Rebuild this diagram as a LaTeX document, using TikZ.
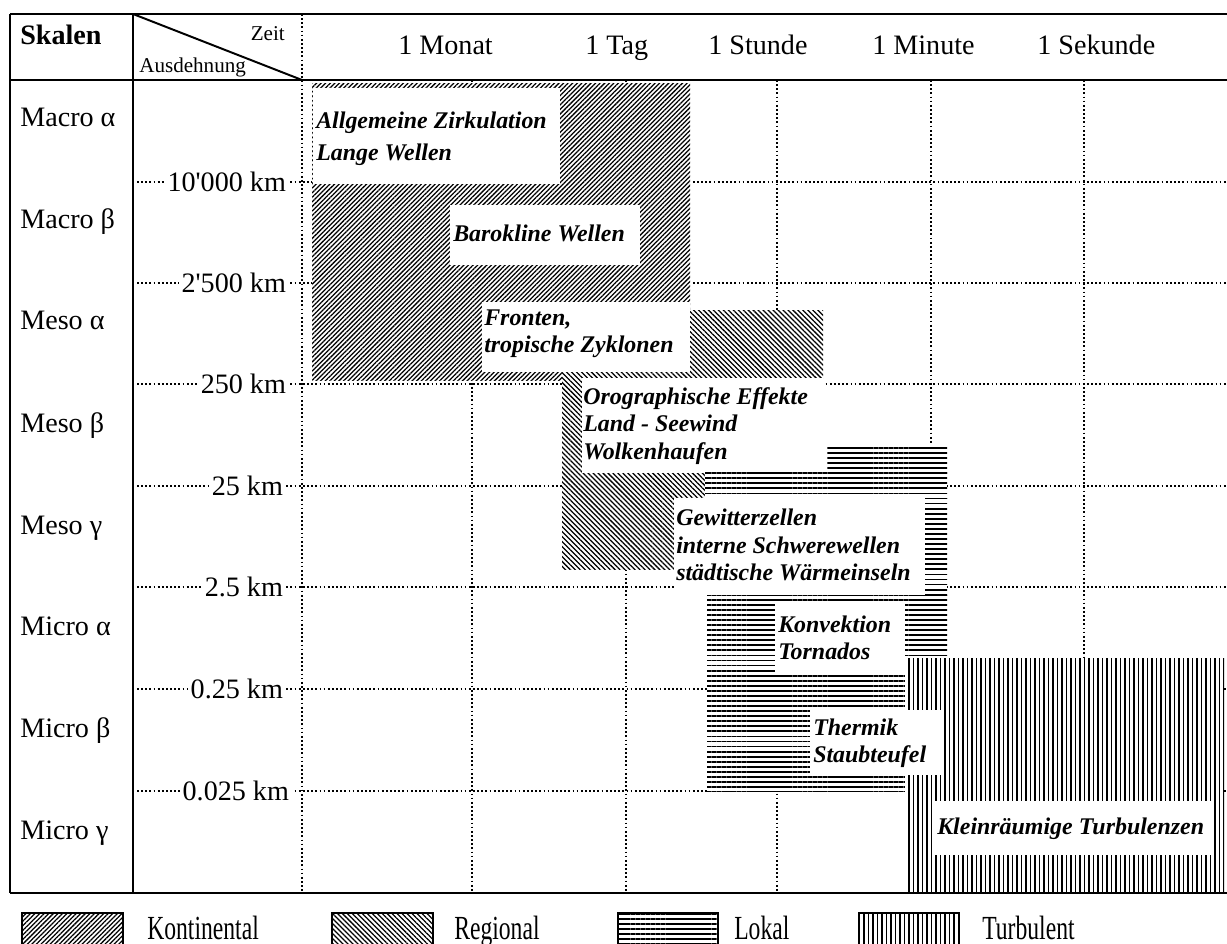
\documentclass[tikz,border=0pt]{standalone}
\usepackage{fontspec}
\setmainfont{Liberation Serif}
\newfontfamily\legendfont[FakeStretch=0.7]{Liberation Serif}
\usetikzlibrary{patterns.meta}

\begin{document}
\begin{tikzpicture}[
	x=0.025cm, y=-0.025cm, % one unit is one pixel of the scan, y runs downwards
	% Solid frame of the table
	rahmen/.style={
		line width=1.4pt
	},
	% Dotted grid lines
	raster/.style={
		line width=1.25pt,
		dash pattern=on 1.25pt off 1.7pt
	},
	% Hatchings of the four kinds of phenomena (white underneath hides the grid)
	kontinental/.style={preaction={fill=white}, pattern={Lines[angle=45,distance=2.3pt,line width=0.9pt]}},
	regional/.style={preaction={fill=white}, pattern={Lines[angle=-45,distance=2.5pt,line width=0.9pt]}},
	lokal/.style={preaction={fill=white}, pattern={Lines[angle=0,distance=3.6pt,line width=1.3pt]}},
	turbulent/.style={preaction={fill=white}, pattern={Lines[angle=90,distance=3.2pt,line width=1.1pt]}},
	% Texts
	skala/.style={
		anchor=base west,
		inner sep=0pt,
		font=\fontsize{20}{24}\selectfont
	},
	kmlabel/.style={
		anchor=east,
		fill=white,
		inner xsep=2pt,
		inner ysep=1pt,
		font=\fontsize{20}{24}\selectfont
	},
	zeitlabel/.style={
		anchor=base west,
		inner sep=0pt,
		font=\fontsize{20}{24}\selectfont
	},
	phaen/.style={
		anchor=west,
		align=left,
		inner sep=0pt,
		font=\fontsize{17}{19.4}\selectfont\bfseries\itshape
	},
	legende/.style={
		anchor=base west,
		inner sep=0pt,
		font=\legendfont\fontsize{24}{26}\selectfont
	}
	]
	
	\useasboundingbox (0,0) rectangle (1227,944);
	
	% 1. Dotted grid
	\draw[raster] (302,14) -- (302,893);
	\draw[raster] (472,80) -- (472,893);
	\draw[raster] (626,80) -- (626,893);
	\draw[raster] (777,80) -- (777,893);
	\draw[raster] (931,80) -- (931,893);
	\draw[raster] (1084,80) -- (1084,893);
	
	\draw[raster] (137,182) -- (1227,182);
	\draw[raster] (137,283) -- (1227,283);
	\draw[raster] (137,384) -- (1227,384);
	\draw[raster] (137,486) -- (1227,486);
	\draw[raster] (137,587) -- (1227,587);
	\draw[raster] (137,689) -- (1227,689);
	\draw[raster] (137,791) -- (1227,791);
	
	% 2. Kontinental
	\fill[kontinental] (312,84) rectangle (690,380);
	\fill[white] (313,88) rectangle (560,184);
	\fill[white] (450,205) rectangle (640,265);
	\fill[white] (482,302) rectangle (690,372);
	
	% 3. Regional
	\fill[regional] (690,311) rectangle (823,378);
	\fill[regional] (562,372) rectangle (705,569);
	\fill[white] (582,378) rectangle (823,473);
	
	% 4. Lokal
	\fill[lokal] (827,445) rectangle (947,473);
	\fill[lokal] (705,472) rectangle (947,498);
	\fill[lokal] (925,498) rectangle (947,597);
	\fill[lokal] (707,595) rectangle (947,660);
	\fill[lokal] (707,660) rectangle (907,791);
	\fill[white] (674,498) rectangle (925,595);
	
	% 5. Turbulent
	\fill[turbulent] (905,658) rectangle (1224,893);
	\fill[white] (775,603) rectangle (905,672);
	\fill[white] (810,710) rectangle (943,775);
	\fill[white] (934,801) rectangle (1212,855);
	
	% 6. Frame and header
	\draw[rahmen] (10,14) -- (1227,14);
	\draw[rahmen] (10,80) -- (1227,80);
	\draw[rahmen] (10,893) -- (1227,893);
	\draw[rahmen] (10,14) -- (10,893);
	\draw[rahmen] (133,14) -- (133,893);
	\draw[rahmen] (133,14) -- (302,80);
	
	\node[anchor=base west, inner sep=0pt, font=\fontsize{20}{24}\selectfont\bfseries] (skalen) at (20,45) {Skalen};
	\node[anchor=base east, inner sep=0pt, font=\fontsize{15}{18}\selectfont] (zeit) at (285,41) {Zeit};
	\node[anchor=base west, inner sep=0pt, font=\fontsize{15}{18}\selectfont] (ausdehnung) at (139,73) {Ausdehnung};
	
	\node[zeitlabel] (monat) at (398,55) {1 Monat};
	\node[zeitlabel] (tag) at (585,55) {1 Tag};
	\node[zeitlabel] (stunde) at (708,55) {1 Stunde};
	\node[zeitlabel] (minute) at (872,55) {1 Minute};
	\node[zeitlabel] (sekunde) at (1037,55) {1 Sekunde};
	
	% 7. Scales and extents
	\node[skala] (macroA) at (20,127) {Macro α};
	\node[skala] (macroB) at (20,229) {Macro β};
	\node[skala] (mesoA) at (20,330) {Meso α};
	\node[skala] (mesoB) at (20,432) {Meso β};
	\node[skala] (mesoC) at (20,534) {Meso γ};
	\node[skala] (microA) at (20,635) {Micro α};
	\node[skala] (microB) at (20,737) {Micro β};
	\node[skala] (microC) at (20,839) {Micro γ};
	
	\node[kmlabel] (km10000) at (289,182) {10\textquotesingle000 km};
	\node[kmlabel] (km2500) at (289,283) {2\textquotesingle500 km};
	\node[kmlabel] (km250) at (289,384) {250 km};
	\node[kmlabel] (km25) at (286,486) {25 km};
	\node[kmlabel] (km2p5) at (286,587) {2.5 km};
	\node[kmlabel] (km0p25) at (286,689) {0.25 km};
	\node[kmlabel] (km0p025) at (292,791) {0.025 km};
	
	% 8. Phenomena
	\node[phaen] (zirkulation) at (316,139) {Allgemeine Zirkulation\\[3pt] Lange Wellen};
	\node[phaen] (barokline) at (453,233) {Barokline Wellen};
	\node[phaen] (fronten) at (484,334) {Fronten,\\ tropische Zyklonen};
	\node[phaen] (orographie) at (583,426) {Orographische Effekte\\ Land - Seewind\\ Wolkenhaufen};
	\node[phaen] (gewitter) at (676,545) {Gewitterzellen\\ interne Schwerewellen\\ städtische Wärmeinseln};
	\node[phaen] (konvektion) at (778,638) {Konvektion\\ Tornados};
	\node[phaen] (thermik) at (813,743) {Thermik\\ Staubteufel};
	\node[phaen] (kleinraeumig) at (937,829) {Kleinräumige Turbulenzen};
	
	% 9. Legend
	\fill[kontinental] (22,913) rectangle (123,944);
	\draw[line width=0.8pt] (22,944) -- (22,913) -- (123,913) -- (123,944);
	\node[legende] (kontinental) at (147,939) {Kontinental};
	
	\fill[regional] (332,913) rectangle (433,944);
	\draw[line width=0.8pt] (332,944) -- (332,913) -- (433,913) -- (433,944);
	\node[legende] (regional) at (454,939) {Regional};
	
	\fill[lokal] (618,913) rectangle (718,944);
	\draw[line width=0.8pt] (618,944) -- (618,913) -- (718,913) -- (718,944);
	\node[legende] (lokal) at (734,939) {Lokal};
	
	\fill[turbulent] (859,913) rectangle (959,944);
	\draw[line width=0.8pt] (859,944) -- (859,913) -- (959,913) -- (959,944);
	\node[legende] (turbulent) at (982,939) {Turbulent};
	
\end{tikzpicture}
\end{document}
